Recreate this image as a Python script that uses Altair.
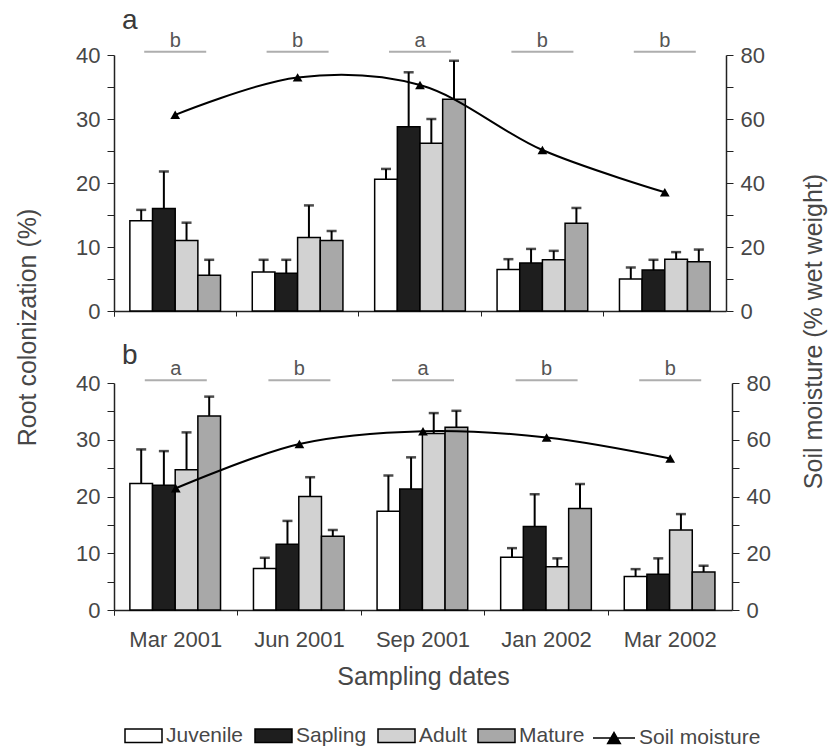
import altair as alt
import pandas as pd

dates = ["Mar 2001", "Jun 2001", "Sep 2001", "Jan 2002", "Mar 2002"]
groups = ["Juvenile", "Sapling", "Adult", "Mature"]
group_colors = ["#ffffff", "#1e1e1e", "#d2d2d2", "#a8a8a8"]

# Panel a: root colonization (%) means and upper error (SE)
a_juvenile = [14.1, 6.1, 20.6, 6.5, 5.0]
a_juvenile_err = [1.7, 1.9, 1.6, 1.6, 1.8]
a_sapling = [16.0, 5.9, 28.8, 7.5, 6.4]
a_sapling_err = [5.8, 2.1, 8.5, 2.2, 1.6]
a_adult = [11.0, 11.5, 26.2, 8.0, 8.1]
a_adult_err = [2.8, 5.0, 3.8, 1.4, 1.1]
a_mature = [5.6, 11.0, 33.1, 13.7, 7.7]
a_mature_err = [2.4, 1.5, 6.0, 2.4, 1.9]
a_soil = [61.3, 73.0, 70.6, 50.3, 37.1]
a_letters = ["b", "b", "a", "b", "b"]

# Panel b
b_juvenile = [22.3, 7.3, 17.4, 9.3, 5.9]
b_juvenile_err = [6.0, 1.9, 6.3, 1.6, 1.3]
b_sapling = [22.0, 11.6, 21.3, 14.7, 6.3]
b_sapling_err = [6.0, 4.1, 5.6, 5.7, 2.8]
b_adult = [24.7, 20.0, 31.1, 7.6, 14.1]
b_adult_err = [6.6, 3.4, 3.6, 1.5, 2.8]
b_mature = [34.2, 13.0, 32.2, 17.9, 6.7]
b_mature_err = [3.4, 1.1, 2.9, 4.3, 1.1]
b_soil = [42.9, 58.5, 63.0, 60.8, 53.4]
b_letters = ["a", "b", "a", "b", "b"]

FONT = "Liberation Sans"
TXT = "#474747"


def bar_table(vals, errs):
    rows = []
    for g, v, e in zip(groups, vals, errs):
        for d, vi, ei in zip(dates, v, e):
            rows.append({"date": d, "group": g, "value": vi, "upper": vi + ei})
    return pd.DataFrame(rows)


bars_a = bar_table([a_juvenile, a_sapling, a_adult, a_mature],
                   [a_juvenile_err, a_sapling_err, a_adult_err, a_mature_err])
bars_b = bar_table([b_juvenile, b_sapling, b_adult, b_mature],
                   [b_juvenile_err, b_sapling_err, b_adult_err, b_mature_err])
soil_a = pd.DataFrame({"date": dates, "moisture": a_soil, "lab": "Soil moisture"})
soil_b = pd.DataFrame({"date": dates, "moisture": b_soil, "lab": "Soil moisture"})
let_a = pd.DataFrame({"date": dates, "letter": a_letters})
let_b = pd.DataFrame({"date": dates, "letter": b_letters})

fill_legend = alt.Legend(
    title=None, orient="none", direction="horizontal", legendX=10, legendY=661,
    symbolType="M-1,-0.36H1V0.36H-1Z", symbolSize=1369, symbolStrokeColor="black",
    symbolStrokeWidth=1.5, labelFontSize=21, labelColor=TXT, labelFont=FONT,
    labelOffset=3, columnPadding=8, symbolOpacity=1,
)
stroke_legend = alt.Legend(
    title=None, orient="none", direction="horizontal", legendX=478, legendY=661,
    symbolType="M-1,0H1M-0.3,0.26L0,-0.26L0.3,0.26Z", symbolSize=1764,
    symbolStrokeColor="black", symbolFillColor="black", symbolStrokeWidth=1.5,
    labelFontSize=21, labelColor=TXT, labelFont=FONT, labelOffset=3,
)


def make_panel(bars, soil, lets, w, h, letter, title_dy, bottom, root_title, soil_title):
    xax = alt.Axis(
        bandPosition=0, tickExtra=True, tickSize=5, labels=bottom, labelAngle=0,
        labelPadding=14, labelFontSize=22, title="Sampling dates" if bottom else None,
        titleFontSize=25, titlePadding=14, domainColor="#222", tickColor="#222",
        domainWidth=1.5, labelColor=TXT, titleColor=TXT, titleFontWeight="normal",
    )
    xenc = alt.X("date:N", sort=dates,
                 scale=alt.Scale(domain=dates, paddingInner=0, paddingOuter=0), axis=xax)
    xoff = alt.XOffset("group:N", sort=groups,
                       scale=alt.Scale(domain=groups, paddingInner=0, paddingOuter=0.7))

    yax_kwargs = dict(
        values=list(range(0, 41, 5)),
        labelExpr="datum.value % 10 == 0 ? datum.label : ''",
        tickSize=7, labelPadding=7, labelFontSize=22, domainColor="#222",
        tickColor="#222", domainWidth=1.5, labelColor=TXT, grid=False,
    )
    if root_title:
        yax_kwargs.update(title="Root colonization (%)", titleFontSize=25, titleColor=TXT,
                          titleFontWeight="normal", titleX=-74, titleY=272, titleAngle=270)
    else:
        yax_kwargs.update(title=None)
    yax = alt.Axis(**yax_kwargs)
    yscale = alt.Scale(domain=[0, 40], nice=False)

    base = alt.Chart(bars)
    bar_layer = base.mark_bar(stroke="black", strokeWidth=1.5).encode(
        x=xenc, xOffset=xoff,
        y=alt.Y("value:Q", scale=yscale, axis=yax),
        fill=alt.Fill("group:N", sort=groups,
                      scale=alt.Scale(domain=groups, range=group_colors), legend=fill_legend),
    )
    err_layer = base.mark_rule(color="black", strokeWidth=2).encode(
        x=xenc, xOffset=xoff,
        y=alt.Y("value:Q", scale=yscale, axis=yax), y2="upper:Q",
    )
    cap_layer = base.mark_tick(color="black", thickness=2.5, size=10).encode(
        x=xenc, xOffset=xoff,
        y=alt.Y("upper:Q", scale=yscale, axis=yax),
    )
    lbase = alt.Chart(lets)
    ann_line = lbase.mark_tick(color="#8c8c8c", thickness=2, size=62).encode(
        x=xenc, y=alt.YDatum(40.5, scale=yscale, axis=yax),
    )
    ann_text = lbase.mark_text(fontSize=20, color="#555", baseline="alphabetic", dy=-5,
                               font=FONT).encode(
        x=xenc, y=alt.YDatum(40.5, scale=yscale, axis=yax), text="letter:N",
    )
    left = alt.layer(bar_layer, err_layer, cap_layer, ann_line, ann_text)

    rax_kwargs = dict(
        orient="right", values=list(range(0, 81, 10)),
        labelExpr="datum.value % 20 == 0 ? datum.label : ''",
        tickSize=7, labelPadding=7, labelFontSize=22, domainColor="#222",
        tickColor="#222", domainWidth=1.5, labelColor=TXT, grid=False,
    )
    if soil_title:
        rax_kwargs.update(title="Soil moisture (% wet weight)", titleFontSize=25,
                          titleColor=TXT, titleFontWeight="normal", titleX=100,
                          titleY=276, titleAngle=270)
    else:
        rax_kwargs.update(title=None)
    rax = alt.Axis(**rax_kwargs)
    rscale = alt.Scale(domain=[0, 80], nice=False)
    sbase = alt.Chart(soil)
    line = sbase.mark_line(interpolate="catmull-rom", strokeWidth=2).encode(
        x=xenc, y=alt.Y("moisture:Q", scale=rscale, axis=rax),
        stroke=alt.Stroke("lab:N", scale=alt.Scale(domain=["Soil moisture"], range=["black"]),
                          legend=stroke_legend),
    )
    pts = sbase.mark_point(shape="triangle-up", filled=True, size=95, color="black",
                           opacity=1).encode(
        x=xenc, y=alt.Y("moisture:Q", scale=rscale, axis=rax),
    )
    right = alt.layer(line, pts)

    return alt.layer(left, right).resolve_scale(y="independent").properties(
        width=w, height=h,
        title=alt.Title(letter, anchor="start", frame="group", fontSize=28,
                        fontWeight="normal", color="#3a3a3a", font=FONT, dx=8,
                        offset=0, dy=title_dy),
    )


pa = make_panel(bars_a, soil_a, let_a, 612, 256, "a", 4, False, True, True)
pb = make_panel(bars_b, soil_b, let_b, 618, 227, "b", 11, True, False, False)

chart = alt.vconcat(pa, pb, spacing=72, bounds="flush").properties(
    padding={"left": 15, "top": 6, "right": 5, "bottom": 5}
).configure(font=FONT).configure_view(stroke=None)

chart.save("out.html", embed_options={"renderer": "svg", "actions": False})
